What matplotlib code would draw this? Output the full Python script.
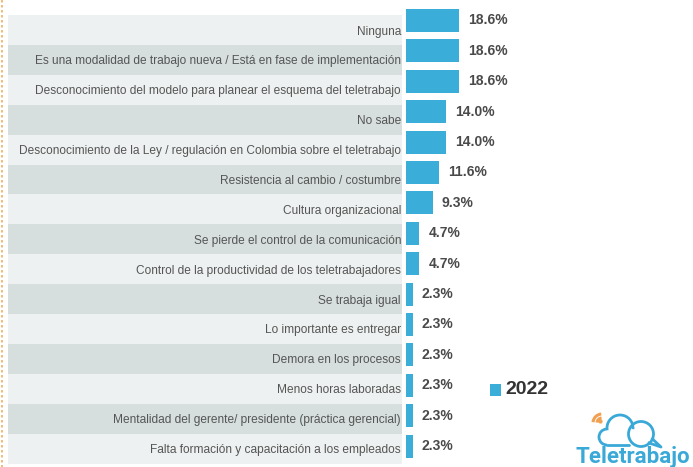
import matplotlib
matplotlib.use("Agg")
import matplotlib.pyplot as plt
from matplotlib.patches import Rectangle, Circle, Arc, Polygon

categories = [
    "Ninguna",
    "Es una modalidad de trabajo nueva / Está en fase de implementación",
    "Desconocimiento del modelo para planear el esquema del teletrabajo",
    "No sabe",
    "Desconocimiento de la Ley / regulación en Colombia sobre el teletrabajo",
    "Resistencia al cambio / costumbre",
    "Cultura organizacional",
    "Se pierde el control de la comunicación",
    "Control de la productividad de los teletrabajadores",
    "Se trabaja igual",
    "Lo importante es entregar",
    "Demora en los procesos",
    "Menos horas laboradas",
    "Mentalidad del gerente/ presidente (práctica gerencial)",
    "Falta formación y capacitación a los empleados",
]
values_2022 = [18.6, 18.6, 18.6, 14.0, 14.0, 11.6, 9.3, 4.7, 4.7, 2.3, 2.3, 2.3, 2.3, 2.3, 2.3]
series_name = "2022"
logo_text = "Teletrabajo"

W, H = 693, 467
BAR_COLOR = "#3aaed8"
LIGHT = "#eef1f1"
DARK = "#d6dede"
FONT = "Liberation Sans"

fig = plt.figure(figsize=(W / 100, H / 100), dpi=100)
fig.patch.set_facecolor("white")

# background overlay in pixel coordinates
bg = fig.add_axes([0, 0, 1, 1], zorder=0)
bg.set_xlim(0, W)
bg.set_ylim(H, 0)
bg.axis("off")

# left orange dotted border
bg.plot([1.5, 1.5], [0, H], color="#f0b060", lw=1.2, ls=(0, (1.5, 1.5)))

band_top, band_pitch, band_h = 15, 29.9, 30
for i, cat in enumerate(categories):
    y0 = band_top + band_pitch * i
    bg.add_patch(Rectangle((8, y0), 394, band_h, facecolor=LIGHT if i % 2 == 0 else DARK,
                           edgecolor="none"))
    bg.text(401, y0 + band_h / 2 + 1.5, cat, ha="right", va="center", fontsize=8.6,
            color="#555555", family=FONT)

# bars axes
px_per_unit = 2.85
x0_px = 406
bar_c0, bar_pitch = 20.5, 30.4
ax = fig.add_axes([x0_px / W, 0, (W - x0_px) / W, 1], zorder=1)
ax.patch.set_alpha(0)
ax.set_xlim(0, (W - x0_px) / px_per_unit)
ax.set_ylim((H - bar_c0) / bar_pitch, -bar_c0 / bar_pitch)
ax.axis("off")
ypos = list(range(len(categories)))
bars = ax.barh(ypos, values_2022, height=23 / bar_pitch, color=BAR_COLOR, label=series_name)
for y, v in zip(ypos, values_2022):
    ax.annotate(f"{v:.1f}%", (v, y), xytext=(9, 0), textcoords="offset pixels",
                ha="left", va="center", fontsize=10, fontweight="bold", color="#4a4a4a",
                family=FONT)

# legend
bg.add_patch(Rectangle((490, 384), 11, 12, facecolor=BAR_COLOR, edgecolor="none"))
bg.text(505, 390, series_name, ha="left", va="center", fontsize=14, fontweight="bold",
        color="#333333", family=FONT)

# logo (own small axes, y up; pixel region x 573-693, y 400-467)
LOGO = "#3aa9d8"
lg = fig.add_axes([573 / W, 0, 120 / W, 67 / H], zorder=2)
lg.set_xlim(0, 120)
lg.set_ylim(0, 67)
lg.axis("off")
lg.patch.set_alpha(0)
lw = 2.0
# left cloud
lg.add_patch(Arc((34, 30), 16, 16, theta1=95, theta2=270, edgecolor=LOGO, lw=lw))
lg.add_patch(Arc((47, 39), 26, 26, theta1=-5, theta2=190, edgecolor=LOGO, lw=lw))
lg.plot([34, 56], [22, 22], color=LOGO, lw=lw, solid_capstyle="round")
# right bubble
lg.add_patch(Circle((68, 33), 12.5, fill=False, edgecolor=LOGO, lw=lw))
lg.plot([76, 88, 79.5], [24, 20, 28], color=LOGO, lw=lw, solid_joinstyle="round")
# wifi arcs
WIFI = "#f0a050"
for r in (5, 9):
    lg.add_patch(Arc((29, 44), 2 * r, 2 * r, theta1=95, theta2=175, edgecolor=WIFI, lw=2.2))
lg.add_patch(Circle((27.5, 45.5), 1.4, color=WIFI))
lg.text(3, 4.5, logo_text, ha="left", va="baseline", fontsize=16, fontweight="bold",
        color=LOGO, family="Roboto")

fig.savefig("out.png", dpi=100, facecolor="white")
